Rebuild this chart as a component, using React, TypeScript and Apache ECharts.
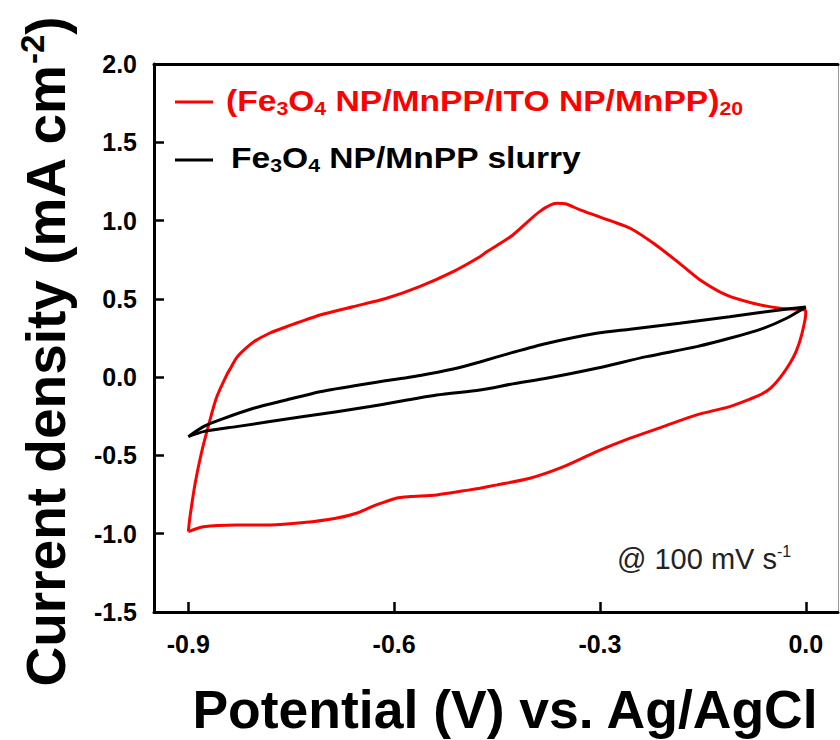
import React, { useEffect, useRef } from "react";
import * as echarts from "echarts";

// Cyclic voltammograms at 100 mV/s (potential in V vs. Ag/AgCl, current density in mA cm^-2)
// Multilayer electrode: anodic sweep from -0.9 V to 0.0 V, then cathodic sweep back.
const multilayerPotential = [
  -0.9, -0.8975, -0.89, -0.881, -0.871, -0.859, -0.844, -0.837, -0.83, -0.818,
  -0.805, -0.781, -0.757, -0.708, -0.66, -0.611, -0.563, -0.514, -0.475, -0.465,
  -0.453, -0.427, -0.388, -0.363, -0.349, -0.329, -0.281, -0.256, -0.222, -0.184,
  -0.154, -0.116, -0.077, -0.038, -0.001, 0.0, -0.006, -0.014, -0.023, -0.036,
  -0.05, -0.064, -0.08, -0.111, -0.159, -0.208, -0.256, -0.305, -0.353, -0.402,
  -0.45, -0.475, -0.49, -0.538, -0.577, -0.597, -0.626, -0.655, -0.685, -0.732,
  -0.781, -0.83, -0.878, -0.9,
];
const multilayerCurrent = [
  -0.987, -0.891, -0.678, -0.486, -0.316, -0.132, 0.014, 0.068, 0.122, 0.177,
  0.225, 0.282, 0.322, 0.397, 0.45, 0.504, 0.578, 0.674, 0.769, 0.801,
  0.833, 0.908, 1.057, 1.11, 1.106, 1.068, 0.993, 0.951, 0.855, 0.727,
  0.621, 0.525, 0.472, 0.44, 0.429, 0.408, 0.27, 0.165, 0.089, 0.005,
  -0.065, -0.108, -0.138, -0.188, -0.241, -0.316, -0.39, -0.476, -0.572, -0.646,
  -0.688, -0.709, -0.72, -0.752, -0.763, -0.773, -0.816, -0.869, -0.901, -0.929,
  -0.944, -0.944, -0.955, -0.987,
];

// Slurry-cast electrode
const slurryPotential = [
  -0.9, -0.878, -0.854, -0.805, -0.757, -0.708, -0.635, -0.562, -0.514, -0.475,
  -0.427, -0.378, -0.305, -0.256, -0.184, -0.111, -0.038, 0.0, -0.028, -0.062,
  -0.111, -0.159, -0.232, -0.305, -0.378, -0.427, -0.475, -0.538, -0.635, -0.732,
  -0.83, -0.878, -0.9,
];
const slurryCurrent = [
  -0.38, -0.316, -0.273, -0.199, -0.146, -0.093, -0.039, 0.011, 0.052, 0.097,
  0.158, 0.215, 0.28, 0.306, 0.344, 0.386, 0.429, 0.448, 0.376, 0.312,
  0.248, 0.195, 0.131, 0.057, -0.007, -0.043, -0.082, -0.114, -0.188, -0.252,
  -0.316, -0.348, -0.38,
];

const potentialTicks = [-0.9, -0.6, -0.3, 0.0];

const FONT = '"Liberation Sans", Arial, Helvetica, sans-serif';

const zip = (xs: number[], ys: number[]) => xs.map((x, i) => [x, ys[i]]);

export default function App() {
  const ref = useRef<HTMLDivElement>(null);

  useEffect(() => {
    if (!ref.current) return;
    const chart = echarts.init(ref.current, null, { renderer: "svg" });

    const tickLabel = {
      fontSize: 25,
      fontWeight: "bold" as const,
      fontFamily: FONT,
      color: "#000",
    };

    chart.setOption({
      animation: false,
      backgroundColor: "#fff",
      grid: { left: 154, top: 64, width: 684, height: 548, containLabel: false },
      xAxis: [
        {
          type: "value",
          position: "bottom",
          min: -0.95,
          max: 0.047,
          axisLine: { show: true, onZero: false, lineStyle: { color: "#000", width: 3 } },
          axisTick: {
            show: true,
            inside: true,
            length: 10,
            customValues: potentialTicks,
            lineStyle: { color: "#000", width: 2.5 },
          },
          axisLabel: {
            ...tickLabel,
            margin: 19,
            customValues: potentialTicks,
            formatter: (v: number) => v.toFixed(1),
          },
          splitLine: { show: false },
        },
        {
          type: "value",
          position: "top",
          min: -0.95,
          max: 0.047,
          axisLine: { show: true, onZero: false, lineStyle: { color: "#000", width: 3 } },
          axisTick: { show: false },
          axisLabel: { show: false },
          splitLine: { show: false },
        },
      ],
      yAxis: [
        {
          type: "value",
          position: "left",
          min: -1.5,
          max: 2.0,
          interval: 0.5,
          axisLine: { show: true, onZero: false, lineStyle: { color: "#000", width: 3 } },
          axisTick: { show: true, inside: true, length: 10, lineStyle: { color: "#000", width: 2.5 } },
          axisLabel: { ...tickLabel, margin: 17, formatter: (v: number) => v.toFixed(1) },
          splitLine: { show: false },
        },
        {
          type: "value",
          position: "right",
          min: -1.5,
          max: 2.0,
          interval: 0.5,
          axisLine: { show: true, onZero: false, lineStyle: { color: "#9a9a9a", width: 1 } },
          axisTick: { show: false },
          axisLabel: { show: false },
          splitLine: { show: false },
        },
      ],
      series: [
        {
          name: "(Fe3O4 NP/MnPP/ITO NP/MnPP)20",
          type: "line",
          xAxisIndex: 0,
          yAxisIndex: 0,
          data: zip(multilayerPotential, multilayerCurrent),
          showSymbol: false,
          smooth: 0.25,
          lineStyle: { color: "#ff0000", width: 3 },
          z: 2,
        },
        {
          name: "Fe3O4 NP/MnPP slurry",
          type: "line",
          xAxisIndex: 0,
          yAxisIndex: 0,
          data: zip(slurryPotential, slurryCurrent),
          showSymbol: false,
          smooth: 0.25,
          lineStyle: { color: "#000", width: 3 },
          z: 3,
        },
      ],
      graphic: [
        // legend
        {
          type: "line",
          shape: { x1: 175, y1: 102, x2: 213, y2: 102 },
          style: { stroke: "#ff0000", lineWidth: 3 },
        },
        {
          type: "text",
          x: 226,
          y: 101,
          scaleX: 1.12,
          style: {
            text: "{n|(Fe}{s|3}{n|O}{s|4}{n| NP/MnPP/ITO NP/MnPP)}{s|20}",
            align: "left",
            verticalAlign: "middle",
            rich: {
              n: { fontSize: 30, fontWeight: "bold", fontFamily: FONT, fill: "#ff0000", lineHeight: 34 },
              s: { fontSize: 19, fontWeight: "bold", fontFamily: FONT, fill: "#ff0000", lineHeight: 18, verticalAlign: "bottom" },
            },
          },
        },
        {
          type: "line",
          shape: { x1: 175, y1: 160, x2: 213, y2: 160 },
          style: { stroke: "#000", lineWidth: 3 },
        },
        {
          type: "text",
          x: 231,
          y: 157.5,
          scaleX: 1.12,
          style: {
            text: "{n|Fe}{s|3}{n|O}{s|4}{n| NP/MnPP slurry}",
            align: "left",
            verticalAlign: "middle",
            rich: {
              n: { fontSize: 30, fontWeight: "bold", fontFamily: FONT, fill: "#000", lineHeight: 34 },
              s: { fontSize: 19, fontWeight: "bold", fontFamily: FONT, fill: "#000", lineHeight: 18, verticalAlign: "bottom" },
            },
          },
        },
        // scan-rate note
        {
          type: "text",
          x: 617,
          y: 559,
          style: {
            text: "{n|@ 100 mV s}{p|-1}",
            align: "left",
            verticalAlign: "middle",
            rich: {
              n: { fontSize: 29, fontFamily: FONT, fill: "#222", lineHeight: 32 },
              p: { fontSize: 16, fontFamily: FONT, fill: "#222", lineHeight: 20, verticalAlign: "top" },
            },
          },
        },
        // axis titles
        {
          type: "text",
          x: 46,
          y: 352,
          rotation: Math.PI / 2,
          style: {
            text: "{a|Current density (mA cm}{b|-2}{a|)}",
            align: "center",
            verticalAlign: "middle",
            rich: {
              a: { fontSize: 55, fontWeight: "bold", fontFamily: FONT, fill: "#000", lineHeight: 60 },
              b: { fontSize: 33, fontWeight: "bold", fontFamily: FONT, fill: "#000", lineHeight: 34, verticalAlign: "top" },
            },
          },
        },
        {
          type: "text",
          x: 505,
          y: 709,
          style: {
            text: "Potential (V) vs. Ag/AgCl",
            align: "center",
            verticalAlign: "middle",
            fontSize: 53.5,
            fontWeight: "bold",
            fontFamily: FONT,
            fill: "#000",
          },
        },
      ],
    });

    return () => chart.dispose();
  }, []);

  return (
    <div
      ref={ref}
      style={{ position: "fixed", left: 0, top: 0, width: 840, height: 740, background: "#fff" }}
    />
  );
}
